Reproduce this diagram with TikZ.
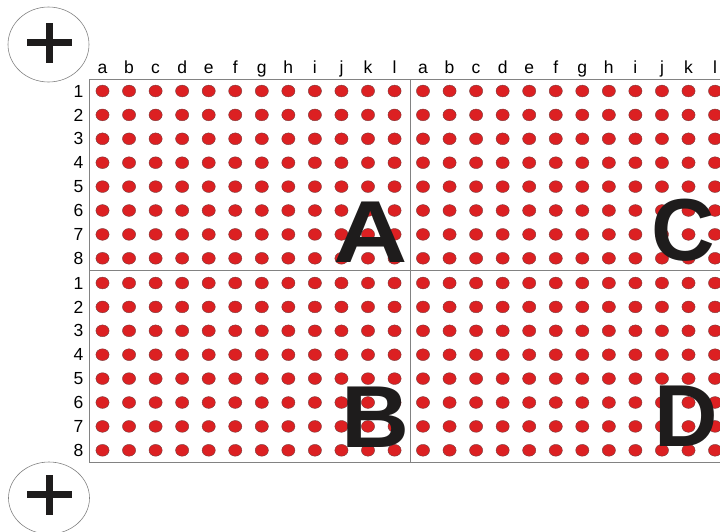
\documentclass[tikz,border=0pt]{standalone}
\usepackage{fontspec}
\setmainfont{Liberation Sans}
\definecolor{dotred}{RGB}{220,32,34}
\definecolor{dotedge}{RGB}{120,60,60}
\definecolor{framegray}{RGB}{130,130,130}
\definecolor{ink}{RGB}{30,28,28}
\begin{document}
\begin{tikzpicture}[x=1pt,y=-1pt,
  welldot/.style={fill=dotred,draw=dotedge,line width=0.4pt},
  frameline/.style={draw=framegray,line width=0.9pt},
  collabel/.style={font=\fontsize{17.5}{17.5}\selectfont,anchor=base,inner sep=0pt},
  rowlabel/.style={font=\fontsize{17.5}{17.5}\selectfont,anchor=east,inner sep=0pt},
  bigletter/.style={font=\fontsize{88}{88}\selectfont\bfseries,anchor=base,inner sep=0pt,text=ink},
  ring/.style={draw=framegray,line width=0.6pt},
  plus/.style={draw=ink,line width=6.5pt}]
\useasboundingbox (0,0) rectangle (720,531);
\clip (0,0) rectangle (720,531);
% plus circles
\draw[ring] (48.5,44.5) ellipse [x radius=40.5, y radius=37.5];
\draw[plus] (27,42.5) -- (72,42.5) (49.5,23) -- (49.5,63);
\draw[ring] (49,498) ellipse [x radius=40.5, y radius=36];
\draw[plus] (27,494.5) -- (72,494.5) (49.5,475) -- (49.5,515);
% dots
\foreach \px in {102.5,423} {
  \foreach \c in {0,...,11} {
    \foreach \py in {91,283} {
      \foreach \r in {0,...,7} {
        \fill[welldot] ({\px+\c*26.55},{\py+\r*23.9}) ellipse [x radius=6.6, y radius=5.9];
      }
    }
  }
}
% frame
\draw[frameline] (720,79) -- (89,79) -- (89,462) -- (720,462);
\draw[frameline] (89,270) -- (720,270);
\draw[frameline] (410,79) -- (410,462);
% column labels
\foreach \px/\pre in {102.5/L,423/R} {
  \foreach \l [count=\i from 0] in {a,b,c,d,e,f,g,h,i,j,k,l} {
    \node[collabel] (col\pre\l) at ({\px+\i*26.55},73) {\l};
  }
}
% row labels
\foreach \py/\pre in {91/T,283/B} {
  \foreach \n [count=\i from 0] in {1,...,8} {
    \node[rowlabel] (row\pre\n) at (83.5,{\py+\i*23.9}) {\n};
  }
}
% plate letters
\node[bigletter,xscale=1.17] (plateA) at (371,262) {A};
\node[bigletter,xscale=1.07] (plateB) at (375,447) {B};
\node[bigletter] (plateC) at (683,260) {C};
\node[bigletter] (plateD) at (686,446) {D};
\end{tikzpicture}
\end{document}
